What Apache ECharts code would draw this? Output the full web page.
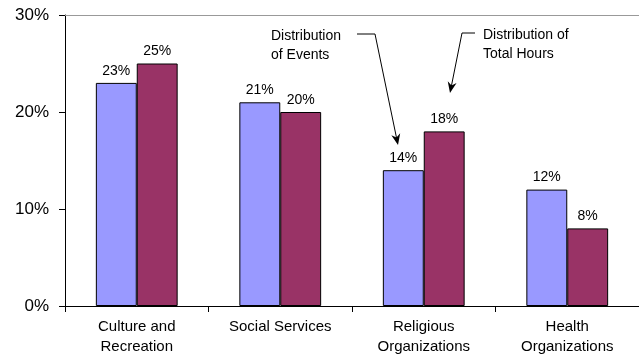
<!DOCTYPE html>
<html>
<head>
<meta charset="utf-8">
<script src="https://cdn.jsdelivr.net/npm/echarts@6/dist/echarts.min.js"></script>
<style>
  html, body { margin: 0; padding: 0; background: #fff; }
  #chart { width: 639px; height: 355px; }
</style>
</head>
<body>
<div id="chart"></div>
<script>
// Volunteer activity by sector
const categories = ['Culture and\nRecreation', 'Social Services', 'Religious\nOrganizations', 'Health\nOrganizations'];
const eventsShare = [23, 21, 14, 12];
const hoursShare = [25, 20, 18, 8];
const yTicks = [0, 10, 20, 30];

const FONT = '"Liberation Sans", Arial, Helvetica, sans-serif';

// Polyline ending in a filled arrowhead
function arrow(points) {
  const n = points.length;
  const tip = points[n - 1];
  const prev = points[n - 2];
  const dx = tip[0] - prev[0], dy = tip[1] - prev[1];
  const len = Math.sqrt(dx * dx + dy * dy);
  const ux = dx / len, uy = dy / len;
  const hl = 11, hw = 4.5;
  const bx = tip[0] - ux * hl, by = tip[1] - uy * hl;
  const head = [
    tip,
    [bx - uy * hw, by + ux * hw],
    [tip[0] - ux * hl * 0.7, tip[1] - uy * hl * 0.7],
    [bx + uy * hw, by - ux * hw]
  ];
  const shaft = points.slice(0, n - 1).concat([[tip[0] - ux * 6, tip[1] - uy * 6]]);
  return [
    { type: 'polyline', shape: { points: shaft }, style: { stroke: '#000', lineWidth: 1, fill: null }, z: 100 },
    { type: 'polygon', shape: { points: head }, style: { fill: '#000' }, z: 100 }
  ];
}

const chart = echarts.init(document.getElementById('chart'), null, { renderer: 'canvas' });

const labelStyle = {
  show: true,
  position: 'top',
  distance: 5,
  formatter: p => p.value + '%',
  fontFamily: FONT,
  fontSize: 14,
  color: '#000'
};

chart.setOption({
  animation: false,
  backgroundColor: '#fff',
  grid: { left: 65, right: 0, top: 15, bottom: 49, containLabel: false, outerBoundsMode: 'none' },
  xAxis: [
    {
      type: 'category',
      data: categories,
      position: 'bottom',
      axisLine: { lineStyle: { color: '#000', width: 1 } },
      axisTick: { show: true, alignWithLabel: false, inside: false, length: 6, lineStyle: { color: '#000' } },
      axisLabel: {
        interval: 0,
        margin: 11,
        fontFamily: FONT,
        fontSize: 15,
        lineHeight: 20,
        color: '#000'
      }
    },
    {
      type: 'category',
      data: categories,
      position: 'top',
      axisLine: { show: true, lineStyle: { color: '#999', width: 1 } },
      axisTick: { show: false },
      axisLabel: { show: false }
    }
  ],
  yAxis: {
    type: 'value',
    min: yTicks[0],
    max: yTicks[yTicks.length - 1],
    interval: 10,
    axisLine: { show: true, lineStyle: { color: '#000', width: 1 } },
    axisTick: { show: true, length: 6, lineStyle: { color: '#000' } },
    splitLine: { show: false },
    axisLabel: {
      margin: 16,
      formatter: v => v + '%',
      fontFamily: FONT,
      fontSize: 17,
      color: '#000'
    }
  },
  series: [
    {
      name: 'Distribution of Events',
      type: 'bar',
      data: eventsShare,
      barGap: '0%',
      barCategoryGap: '43%',
      itemStyle: { color: '#9999FF', borderColor: '#000', borderWidth: 1 },
      label: labelStyle
    },
    {
      name: 'Distribution of Total Hours',
      type: 'bar',
      data: hoursShare,
      itemStyle: { color: '#993366', borderColor: '#000', borderWidth: 1 },
      label: labelStyle
    }
  ],
  graphic: [
    {
      type: 'text', left: 271, top: 27,
      style: { text: 'Distribution\nof Events', font: '14px ' + FONT, lineHeight: 19, fill: '#000' }
    },
    {
      type: 'text', left: 483, top: 26,
      style: { text: 'Distribution of\nTotal Hours', font: '14px ' + FONT, lineHeight: 19, fill: '#000' }
    }
  ].concat(
    arrow([[357, 34], [375, 34], [398, 145]]),
    arrow([[475, 33], [462, 33], [450, 93]])
  )
});
</script>
</body>
</html>
